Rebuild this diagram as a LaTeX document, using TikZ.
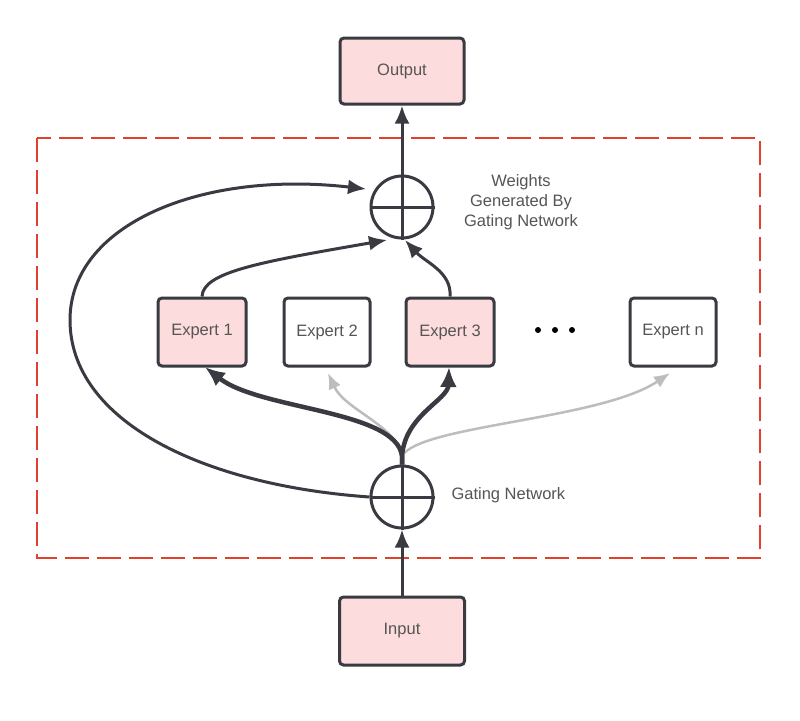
\documentclass[tikz,border=0pt]{standalone}
\usepackage{fontspec}
\setmainfont{Liberation Sans}
\usetikzlibrary{arrows.meta}
\definecolor{pinkfill}{HTML}{FCDCDC}
\definecolor{edge}{HTML}{3A3B42}
\definecolor{txt}{HTML}{555555}
\definecolor{redd}{HTML}{E0412C}
\definecolor{grayl}{HTML}{BDBDBD}
\begin{document}
\begin{tikzpicture}[x=1pt,y=-1pt,
  box/.style={draw=edge,line width=3pt,rounded corners=4pt,font=\fontsize{16.5}{19}\selectfont,text=txt,inner sep=0pt},
  hot/.style={box,fill=pinkfill},
  cold/.style={box,fill=white},
  sumc/.style={circle,draw=edge,line width=3pt,minimum size=62pt,inner sep=0pt},
  lbl/.style={font=\fontsize{16.5}{20}\selectfont,text=txt,align=center},
  conn/.style={draw=edge,line width=3pt,-{Latex[length=18pt,width=15pt]}},
  thick conn/.style={draw=edge,line width=4.5pt,-{Latex[length=20pt,width=17pt]}},
  light conn/.style={draw=grayl,line width=2.5pt,-{Latex[length=16pt,width=13pt]}}
]
\useasboundingbox[fill=white] (0,0) rectangle (800,720);
\draw[redd,line width=2.8pt,dash pattern=on 24pt off 8pt] (37,138) rectangle (760,558);

\node[hot,minimum width=124pt,minimum height=66pt] (out) at (402,71) {Output};
\node[hot,minimum width=125pt,minimum height=68pt] (in) at (402,631) {Input};
\node[hot,minimum width=88pt,minimum height=68pt] (e1) at (202,332) {Expert 1};
\node[cold,minimum width=86pt,minimum height=68pt] (e2) at (327,332) {Expert 2};
\node[hot,minimum width=88pt,minimum height=68pt] (e3) at (450,332) {Expert 3};
\node[cold,minimum width=86pt,minimum height=68pt] (en) at (673,332) {Expert n};

\node[sumc] (top) at (402,207) {};
\node[sumc] (bot) at (402,497) {};
\draw[edge,line width=3pt] (top.north) -- (top.south) (top.west) -- (top.east);
\draw[edge,line width=3pt] (bot.north) -- (bot.south) (bot.west) -- (bot.east);

\node[lbl] (wlbl) at (521,202) {Weights\\Generated By\\Gating Network};
\node[lbl,anchor=west] (glbl) at (448,495) {Gating Network};

\node[circle,fill=black,inner sep=0pt,minimum size=6pt] (d1) at (538,330) {};
\node[circle,fill=black,inner sep=0pt,minimum size=6pt] (d2) at (555,330) {};
\node[circle,fill=black,inner sep=0pt,minimum size=6pt] (d3) at (572,330) {};

\coordinate (j) at (402,456);

% input to gating
\draw[conn] (in.north) -- (bot.south);
% top circle to output
\draw[conn] (top.north) -- (out.south);

% gray fan
\draw[light conn] (bot.north) -- (j) .. controls (396,425) and (345,410) .. (328,373);
\draw[light conn] (bot.north) -- (j) .. controls (420,425) and (600,420) .. (670,373);
% thick fan
\draw[thick conn] (bot.north) -- (j) .. controls (396,410) and (260,410) .. (205,367);
\draw[thick conn] (bot.north) -- (j) .. controls (405,415) and (448,400) .. (449,367);

% experts to top sum
\draw[conn] (e1.north) .. controls (203,272) and (260,262) .. (387,240);
\draw[conn] (e3.north) .. controls (452,272) and (425,262) .. (405,240);

% loop
\draw[conn] (bot.west) .. controls (200,485) and (70,420) .. (70,320) .. controls (70,225) and (200,170) .. (366,189);
\end{tikzpicture}
\end{document}
